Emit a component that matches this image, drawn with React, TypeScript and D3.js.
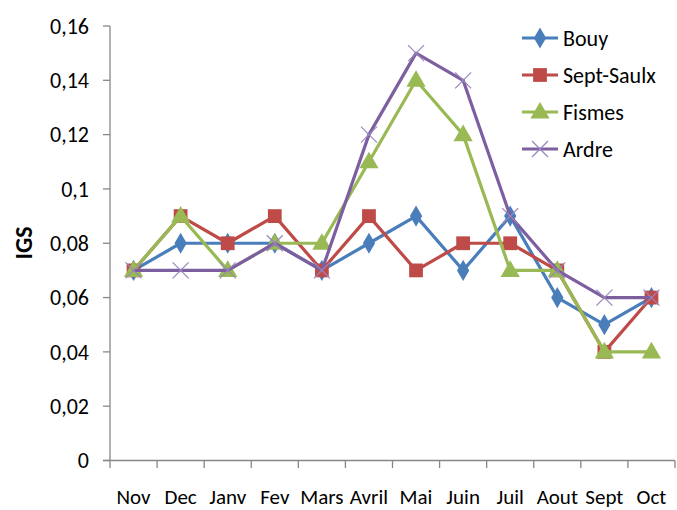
import * as d3 from "d3";

const months = ["Nov", "Dec", "Janv", "Fev", "Mars", "Avril", "Mai", "Juin", "Juil", "Aout", "Sept", "Oct"];
const seriesNames = ["Bouy", "Sept-Saulx", "Fismes", "Ardre"];
const bouy = [0.07, 0.08, 0.08, 0.08, 0.07, 0.08, 0.09, 0.07, 0.09, 0.06, 0.05, 0.06];
const septSaulx = [0.07, 0.09, 0.08, 0.09, 0.07, 0.09, 0.07, 0.08, 0.08, 0.07, 0.04, 0.06];
const fismes = [0.07, 0.09, 0.07, 0.08, 0.08, 0.11, 0.14, 0.12, 0.07, 0.07, 0.04, 0.04];
const ardre = [0.07, 0.07, 0.07, 0.08, 0.07, 0.12, 0.15, 0.14, 0.09, 0.07, 0.06, 0.06];
const yTicks = [0, 0.02, 0.04, 0.06, 0.08, 0.1, 0.12, 0.14, 0.16];

const colors = ["#4a7ebb", "#be4b48", "#98b954", "#7d5fa0"];
const markers = ["diamond", "square", "triangle", "cross"];
const allSeries = [bouy, septSaulx, fismes, ardre];

const W = 677;
const H = 510;
const font = "Calibri, Carlito, 'Open Sans', sans-serif";

const Marker = ({ kind, x, y, color }: { kind: string; x: number; y: number; color: string }) => {
  if (kind === "cross") {
    const s = 8;
    return (
      <g stroke="#9a86bd" strokeWidth={1.2}>
        <line x1={x - s} y1={y - s} x2={x + s} y2={y + s} />
        <line x1={x - s} y1={y + s} x2={x + s} y2={y - s} />
      </g>
    );
  }
  const sym =
    kind === "diamond" ? d3.symbolDiamond : kind === "square" ? d3.symbolSquare : d3.symbolTriangle;
  const size = kind === "diamond" ? 130 : kind === "square" ? 190 : 160;
  return <path d={d3.symbol(sym, size)() || ""} transform={`translate(${x},${y + (kind === "triangle" ? 1 : 0)})`} fill={color} />;
};

export default function App() {
  const x = d3.scaleBand().domain(months).range([110, 675]);
  const y = d3.scaleLinear().domain([0, 0.16]).range([460.5, 26]);
  const cx = (m: string) => (x(m) ?? 0) + x.bandwidth() / 2;
  const line = d3
    .line<number>()
    .x((_, i) => cx(months[i]))
    .y((v) => y(v));
  const fmt = (v: number) => String(+v.toFixed(2)).replace(".", ",");

  return (
    <svg width={W} height={H} style={{ position: "absolute", left: 0, top: 0, fontFamily: font }}>
      <rect width={W} height={H} fill="#fff" />
      {/* y axis */}
      <line x1={110} x2={110} y1={26} y2={460.5} stroke="#878787" strokeWidth={1.3} />
      {yTicks.map((t) => (
        <g key={t}>
          <line x1={103} x2={110} y1={y(t)} y2={y(t)} stroke="#878787" strokeWidth={1.3} />
          <text x={89} y={y(t)} dy="0.35em" textAnchor="end" fontSize={22} fill="#000">
            {fmt(t)}
          </text>
        </g>
      ))}
      {/* x axis */}
      <line x1={103} x2={675} y1={460.5} y2={460.5} stroke="#878787" strokeWidth={1.3} />
      {months.map((m, i) => (
        <g key={m}>
          <line x1={(x(m) ?? 0)} x2={(x(m) ?? 0)} y1={460.5} y2={468} stroke="#878787" strokeWidth={1.3} />
          {i === months.length - 1 && (
            <line x1={675} x2={675} y1={460.5} y2={468} stroke="#878787" strokeWidth={1.3} />
          )}
          <text x={cx(m)} y={504} textAnchor="middle" fontSize={21} fill="#000">
            {m}
          </text>
        </g>
      ))}
      <text
        transform={`translate(32,243) rotate(-90)`}
        textAnchor="middle"
        fontSize={24}
        fontWeight="bold"
        fill="#000"
      >
        IGS
      </text>
      {/* series */}
      {allSeries.map((vals, si) => (
        <g key={seriesNames[si]}>
          <path d={line(vals) || ""} fill="none" stroke={colors[si]} strokeWidth={3.2} strokeLinejoin="round" />
          {vals.map((v, i) => (
            <Marker key={i} kind={markers[si]} x={cx(months[i])} y={y(v)} color={colors[si]} />
          ))}
        </g>
      ))}
      {/* legend */}
      {seriesNames.map((n, si) => {
        const ly = 38 + si * 37;
        return (
          <g key={n}>
            <line x1={522} x2={558} y1={ly} y2={ly} stroke={colors[si]} strokeWidth={3.2} />
            <Marker kind={markers[si]} x={540} y={ly} color={colors[si]} />
            <text x={563} y={ly} dy="0.35em" fontSize={22} fill="#000">
              {n}
            </text>
          </g>
        );
      })}
    </svg>
  );
}
